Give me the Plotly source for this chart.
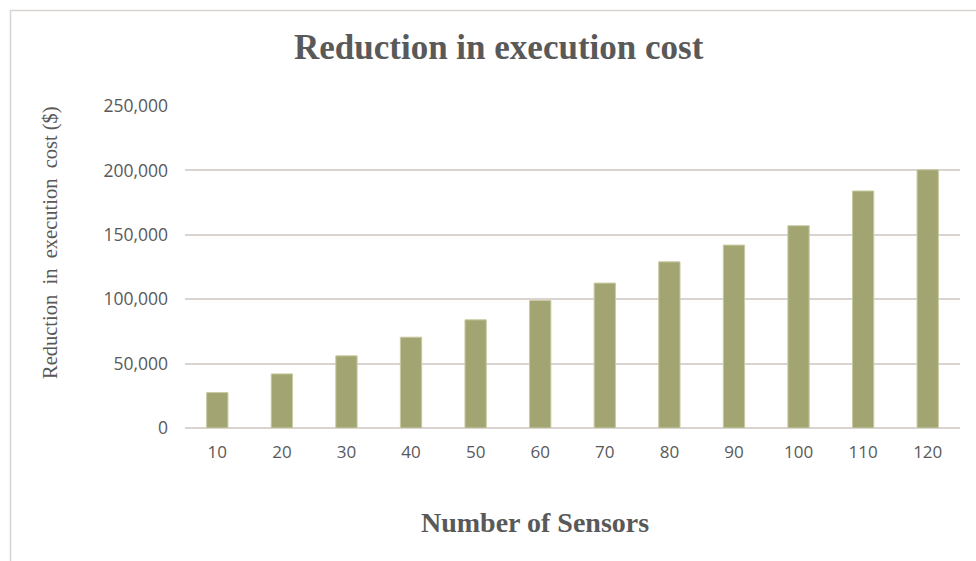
import plotly.graph_objects as go

sensors = ["10", "20", "30", "40", "50", "60", "70", "80", "90", "100", "110", "120"]
reduction = [27500, 42000, 56000, 70500, 84000, 99000, 112500, 129000, 142000, 157000, 184000, 200500]
y_ticks = [0, 50000, 100000, 150000, 200000, 250000]
y_tick_labels = ["0", "50,000", "100,000", "150,000", "200,000", "250,000"]

txt = "#595959"
grid = "#d9d4d0"
serif = "Liberation Serif, DejaVu Serif, serif"
sans = "Open Sans, Liberation Sans, sans-serif"

fig = go.Figure(go.Bar(
    x=sensors, y=reduction,
    marker=dict(color="#a2a571", line=dict(color="#c9caa2", width=1)),
    width=0.33,
))

W, H = 976, 561
L, R, T, B = 185, 16, 106, 133
pw, ph = W - L - R, H - T - B

fig.update_layout(
    width=W, height=H,
    margin=dict(l=L, r=R, t=T, b=B),
    paper_bgcolor="white", plot_bgcolor="white",
    showlegend=False,
    xaxis=dict(
        type="category", showgrid=False, zeroline=False, showline=False,
        tickfont=dict(family=sans, size=17, color=txt), ticklabelstandoff=12,
    ),
    yaxis=dict(
        range=[0, 250000], tickvals=y_ticks, ticktext=y_tick_labels,
        showgrid=True, gridcolor=grid, gridwidth=1.5, zeroline=True,
        zerolinecolor=grid, zerolinewidth=1.5, showline=False,
        tickfont=dict(family=sans, size=17.5, color=txt), ticklabelstandoff=16,
    ),
    shapes=[dict(
        type="rect", xref="paper", yref="paper",
        x0=(10.5 - L) / pw, x1=(W + 20 - L) / pw,
        y0=-(B + 20) / ph, y1=1 + (T - 10.5) / ph,
        line=dict(color=grid, width=1.5), layer="below",
    )],
    annotations=[
        dict(text="<b>Reduction in execution cost</b>", xref="paper", yref="paper",
             x=(499 - L) / pw, y=1 + (T - 47) / ph, xanchor="center", yanchor="middle",
             showarrow=False, font=dict(family=serif, size=35, color=txt)),
        dict(text="Reduction&nbsp; in&nbsp; execution&nbsp; cost ($)", xref="paper", yref="paper",
             x=(50 - L) / pw, y=(H - B - 243) / ph, xanchor="center", yanchor="middle",
             textangle=-90, showarrow=False, font=dict(family=serif, size=20.5, color=txt)),
        dict(text="<b>Number of Sensors</b>", xref="paper", yref="paper",
             x=(535 - L) / pw, y=-(522 - (H - B)) / ph, xanchor="center", yanchor="middle",
             showarrow=False, font=dict(family=serif, size=28, color=txt)),
    ],
)

fig.write_html("out.html")
